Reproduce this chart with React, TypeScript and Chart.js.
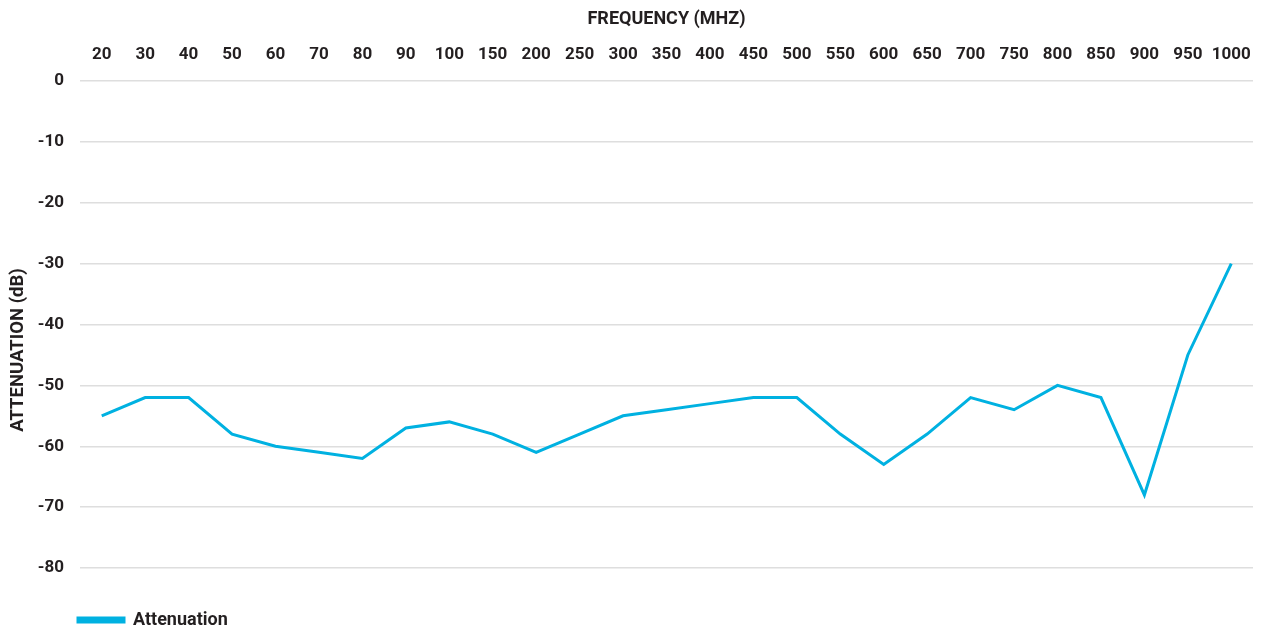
import React, { useEffect, useRef } from "react";
import { Chart, registerables } from "chart.js";

Chart.register(...registerables);

const frequencies = ["20", "30", "40", "50", "60", "70", "80", "90", "100", "150", "200", "250", "300", "350", "400", "450", "500", "550", "600", "650", "700", "750", "800", "850", "900", "950", "1000"];
const attenuation = [-55, -52, -52, -58, -60, -61, -62, -57, -56, -58, -61, -58, -55, -54, -53, -52, -52, -58, -63, -58, -52, -54, -50, -52, -68, -45, -30];
const seriesLabel = "Attenuation";
const xTitle = "FREQUENCY (MHZ)";
const yTitle = "ATTENUATION (dB)";
const yMin = -80;
const yMax = 0;
const yStep = 10;

const LINE_COLOR = "#00b1e1";
const TEXT_COLOR = "#231f20";
const GRID_COLOR = "#dedede";
const FONT = "Roboto";

const yTitlePlugin = {
  id: "yTitleCustom",
  afterDraw(chart: any) {
    const ctx = chart.ctx;
    ctx.save();
    ctx.translate(18, 350);
    ctx.rotate(-Math.PI / 2);
    ctx.font = `bold 18.5px ${FONT}`;
    ctx.fillStyle = TEXT_COLOR;
    ctx.textAlign = "center";
    ctx.textBaseline = "middle";
    ctx.fillText(yTitle, 0, 0);
    ctx.restore();
  },
};

const legendShiftPlugin = {
  id: "legendShift",
  afterLayout(chart: any) {
    if (chart.legend) {
      const w = chart.legend.width;
      chart.legend.left = 35;
      chart.legend.right = 35 + w;
    }
  },
};

export default function App() {
  const canvasRef = useRef<HTMLCanvasElement | null>(null);

  useEffect(() => {
    if (!canvasRef.current) return;
    const chart = new Chart(canvasRef.current, {
      type: "line",
      data: {
        labels: frequencies,
        datasets: [
          {
            label: seriesLabel,
            data: attenuation,
            borderColor: LINE_COLOR,
            backgroundColor: LINE_COLOR,
            borderWidth: 3,
            pointRadius: 0,
            tension: 0,
            fill: false,
          },
        ],
      },
      options: {
        animation: false,
        responsive: true,
        maintainAspectRatio: false,
        layout: { padding: { left: 0, right: 9, top: 0, bottom: 0 } },
        scales: {
          x: {
            position: "top",
            offset: true,
            grid: { display: false, drawTicks: false },
            border: { display: false },
            ticks: {
              padding: 16,
              maxRotation: 0,
              autoSkip: false,
              color: TEXT_COLOR,
              font: { family: FONT, size: 17, weight: "bold" },
            },
            title: {
              display: true,
              text: xTitle,
              color: TEXT_COLOR,
              padding: { top: 9, bottom: 0 },
              font: { family: FONT, size: 18, weight: "bold" },
            },
            afterFit: (scale: any) => {
              scale.height = 81;
              scale.paddingLeft = 0;
              scale.paddingRight = 0;
            },
          },
          y: {
            min: yMin,
            max: yMax,
            grid: { color: GRID_COLOR, lineWidth: 1.5, drawTicks: false },
            border: { display: false },
            ticks: {
              stepSize: yStep,
              padding: 16,
              color: TEXT_COLOR,
              font: { family: FONT, size: 17, weight: "bold" },
            },
            afterFit: (scale: any) => {
              scale.width = 80;
            },
          },
        },
        plugins: {
          tooltip: { enabled: false },
          legend: {
            position: "bottom",
            align: "start",
            labels: {
              boxWidth: 46,
              boxHeight: 4,
              padding: 43,
              color: TEXT_COLOR,
              font: { family: FONT, size: 18, weight: "bold" },
            },
          },
        },
      },
      plugins: [yTitlePlugin, legendShiftPlugin],
    });
    return () => chart.destroy();
  }, []);

  return (
    <div style={{ position: "fixed", left: 0, top: 0, width: 1262, height: 639, background: "#fff" }}>
      <canvas ref={canvasRef} />
    </div>
  );
}
